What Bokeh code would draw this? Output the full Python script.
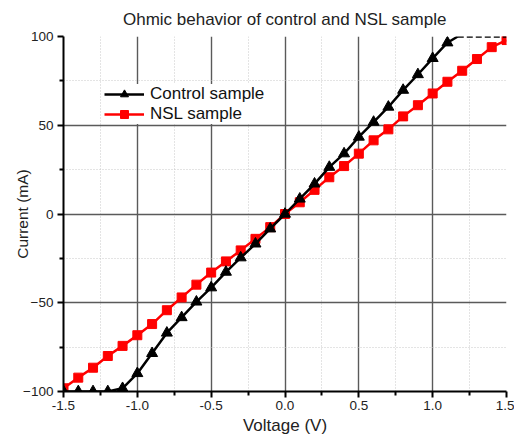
from bokeh.plotting import figure
from bokeh.models import FixedTicker, Range1d, Legend, LegendItem
from bokeh.embed import file_html
from bokeh.resources import INLINE

# ---- data ----
control_v = [-1.5, -1.4, -1.3, -1.2, -1.1, -1.0, -0.9, -0.8, -0.7, -0.6, -0.5, -0.4, -0.3, -0.2, -0.1,
             0.0, 0.1, 0.2, 0.3, 0.4, 0.5, 0.6, 0.7, 0.8, 0.9, 1.0, 1.1]
control_i = [-100, -100, -100, -100, -98.2, -89.8, -78.5, -67.0, -58.3, -49.5, -41.5, -32.7, -24.6, -16.8, -8.3,
             0.0, 8.5, 17.0, 26.4, 34.0, 43.4, 51.8, 60.3, 69.8, 78.6, 87.7, 96.5]
control_rise_v = [1.1, 1.17]
control_rise_i = [96.5, 100]
control_sat_v = [1.17, 1.5]
control_sat_i = [100, 100]

nsl_v = [-1.5, -1.4, -1.3, -1.2, -1.1, -1.0, -0.9, -0.8, -0.7, -0.6, -0.5, -0.4, -0.3, -0.2, -0.1,
         0.0, 0.1, 0.2, 0.3, 0.4, 0.5, 0.6, 0.7, 0.8, 0.9, 1.0, 1.1, 1.2, 1.3, 1.4, 1.5]
nsl_i = [-98.2, -92.2, -86.6, -80.0, -74.3, -68.3, -62.0, -54.2, -47.0, -39.8, -33.0, -26.7, -20.5, -14.0, -7.4,
         0.0, 6.6, 13.6, 20.7, 27.0, 34.0, 41.5, 47.7, 55.0, 61.3, 67.9, 74.5, 80.7, 87.3, 94.0, 98.0]

x_ticks = [-1.5, -1.0, -0.5, 0.0, 0.5, 1.0, 1.5]
x_minor = [-1.25, -0.75, -0.25, 0.25, 0.75, 1.25]
y_ticks = [-100, -50, 0, 50, 100]
y_minor = [-75, -25, 25, 75]

FONT = "Liberation Sans"

p = figure(width=514, height=438, output_backend="svg", toolbar_location=None,
           x_range=Range1d(-1.5, 1.5), y_range=Range1d(-100, 100),
           min_border_left=63, min_border_right=8, min_border_top=36, min_border_bottom=47)
p.outline_line_color = None
p.background_fill_color = "white"

p.title.text = "Ohmic behavior of control and NSL sample"
p.title.align = "center"
p.title.text_font = FONT
p.title.text_font_size = "17px"
p.title.text_font_style = "normal"
p.title.text_color = "#222222"
p.title.standoff = 15

xt = FixedTicker(ticks=x_ticks, minor_ticks=x_minor)
yt = FixedTicker(ticks=y_ticks, minor_ticks=y_minor)
p.xaxis.ticker = xt
p.yaxis.ticker = yt
p.xgrid.ticker = FixedTicker(ticks=[-1.0, -0.5, 0.0, 0.5, 1.0], minor_ticks=x_minor)
p.ygrid.ticker = FixedTicker(ticks=[-50, 0, 50], minor_ticks=y_minor)

for ax in (p.xaxis, p.yaxis):
    ax.axis_line_width = 2
    ax.axis_line_color = "black"
    ax.major_tick_line_width = 2
    ax.major_tick_line_color = "black"
    ax.minor_tick_line_width = 2
    ax.minor_tick_line_color = "black"
    ax.major_tick_in = 0
    ax.major_tick_out = 6
    ax.minor_tick_in = 0
    ax.minor_tick_out = 4
    ax.major_label_text_font = FONT
    ax.major_label_text_font_size = "13.5px"
    ax.major_label_text_color = "#222222"
    ax.axis_label_text_font = FONT
    ax.axis_label_text_font_style = "normal"
    ax.axis_label_text_color = "#222222"

p.xaxis.axis_label = "Voltage (V)"
p.yaxis.axis_label = "Current (mA)"
p.xaxis.axis_label_text_font_size = "17px"
p.yaxis.axis_label_text_font_size = "15.5px"
p.xaxis.major_label_standoff = 3
p.xaxis.axis_label_standoff = 3
p.yaxis.major_label_standoff = 4
p.yaxis.axis_label_standoff = -11
p.xaxis.major_label_overrides = {-1.5: "-1.5", -1.0: "-1.0", -0.5: "-0.5", 0.0: "0.0", 0.5: "0.5", 1.0: "1.0", 1.5: "1.5"}

for g in (p.xgrid, p.ygrid):
    g.grid_line_color = "#5a5a5a"
    g.grid_line_width = 1.4
    g.grid_line_alpha = 1.0
    g.minor_grid_line_color = "#c8c8c8"
    g.minor_grid_line_dash = "1 2"
    g.minor_grid_line_width = 1

# data
r_nsl_line = p.line(nsl_v, nsl_i, line_color="red", line_width=2.5)
r_nsl_pts = p.scatter(nsl_v, nsl_i, marker="square", size=9, fill_color="red", line_color="red")

r_c_line = p.line(control_v, control_i, line_color="black", line_width=2.5)
p.line(control_rise_v, control_rise_i, line_color="black", line_width=2.5)
p.line(control_sat_v, control_sat_i, line_color="black", line_width=2.5, line_dash="6 3")
r_c_pts = p.scatter(control_v, control_i, marker="triangle", size=11, fill_color="black", line_color="black")

legend = Legend(items=[
    LegendItem(label="Control sample", renderers=[r_c_line, r_c_pts]),
    LegendItem(label="NSL sample", renderers=[r_nsl_line, r_nsl_pts]),
], location=(41, 267))
legend.border_line_color = None
legend.background_fill_color = "white"
legend.background_fill_alpha = 1.0
legend.label_text_font = FONT
legend.label_text_font_size = "17px"
legend.label_text_color = "#111111"
legend.glyph_width = 40
legend.glyph_height = 20
legend.label_height = 20
legend.spacing = 0
legend.padding = 3
legend.margin = 0
legend.label_standoff = 6
p.add_layout(legend, "center")

open("out.html", "w").write(file_html(p, INLINE))
